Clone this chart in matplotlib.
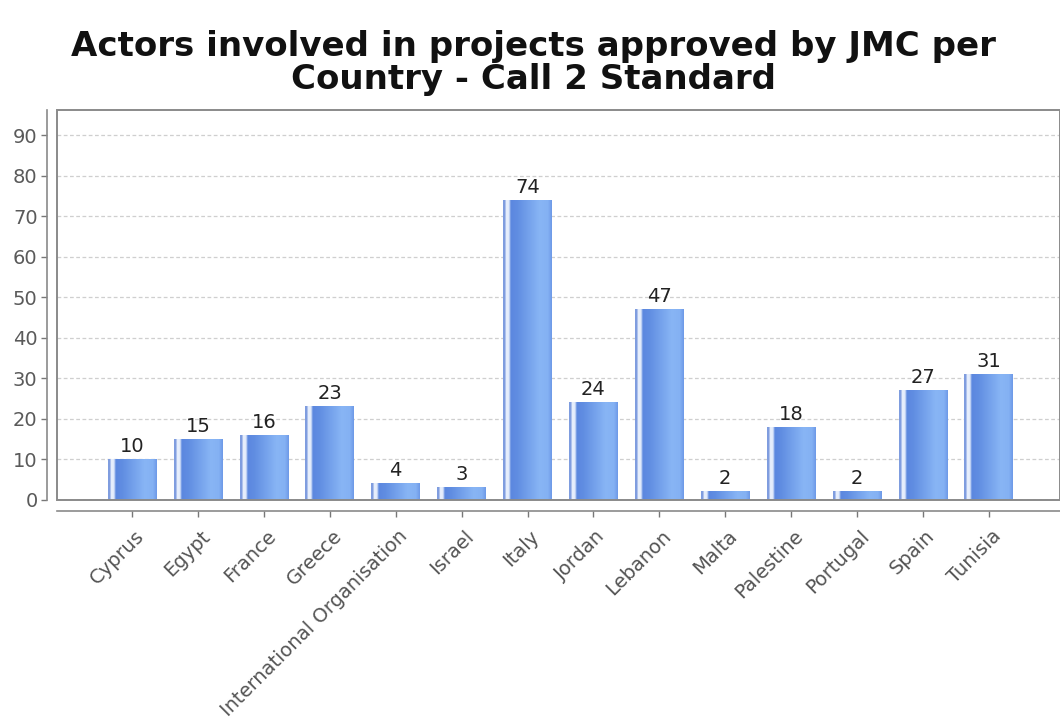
import numpy as np
import matplotlib.pyplot as plt
from matplotlib.colors import to_rgb
from matplotlib.patches import Rectangle
from matplotlib.transforms import ScaledTranslation

countries = ["Cyprus", "Egypt", "France", "Greece", "International Organisation",
             "Israel", "Italy", "Jordan", "Lebanon", "Malta", "Palestine",
             "Portugal", "Spain", "Tunisia"]
actors = [10, 15, 16, 23, 4, 3, 74, 24, 47, 2, 18, 2, 27, 31]

title = "Actors involved in projects approved by JMC per\nCountry - Call 2 Standard"

# horizontal shading across one bar: edge stripe, highlight, then dark->light body
stops = [(0.00, "#7f9ddf"), (0.04, "#7f9ddf"), (0.06, "#eaf1fd"), (0.12, "#e2ebfb"),
         (0.16, "#5b87df"), (0.30, "#618ee2"), (0.75, "#88b5f5"), (0.92, "#84b1f3"),
         (1.00, "#6d99e7")]
pos = np.array([s[0] for s in stops])
cols = np.array([to_rgb(s[1]) for s in stops])
xs = np.linspace(0, 1, 200)
grad = np.stack([np.interp(xs, pos, cols[:, i]) for i in range(3)], axis=-1)[None, :, :]

fig = plt.figure(figsize=(10.6, 7.19), dpi=100)
ax = fig.add_axes([57 / 1060, 0.3046, 1 - 57 / 1060, 0.5424])

# plot frame plus offset axis lines (set first: moving a spine resets its ticks)
for side in ["top", "right"]:
    ax.spines[side].set_visible(False)
ax.spines["left"].set_position(("outward", 7))
ax.spines["bottom"].set_position(("outward", 8))
for side in ["left", "bottom"]:
    ax.spines[side].set_color("#8a8a8a")
    ax.spines[side].set_linewidth(1.2)
ax.add_patch(Rectangle((0, 0), 1, 1, transform=ax.transAxes, fill=False,
                       edgecolor="#8a8a8a", linewidth=1.4, clip_on=False, zorder=3))

x = np.arange(len(countries))
bars = ax.bar(x, actors, width=0.74, color="none", edgecolor="none", zorder=2)
for rect, v in zip(bars, actors):
    x0 = rect.get_x()
    ax.imshow(grad, extent=[x0, x0 + rect.get_width(), 0, rect.get_height()],
              aspect="auto", interpolation="bilinear", zorder=2)
    ax.annotate(str(v), (rect.get_x() + rect.get_width() / 2, v),
                xytext=(0, 2.5), textcoords="offset points", ha="center", va="bottom",
                fontsize=14, color="#222222")

ax.set_xlim(-1.14, 14.08)
ax.set_ylim(0, 96.2)
ax.spines["left"].set_bounds(0, 96.2)
ax.set_yticks(np.arange(0, 100, 10))
ax.set_xticks(x)
ax.tick_params(axis="y", labelsize=14, labelcolor="#5a5a5a", color="#777777",
               length=4, width=1, pad=3)
ax.tick_params(axis="x", color="#777777", length=4, width=1, pad=12)
ax.set_xticklabels(countries, rotation=45, ha="right", va="center",
                   rotation_mode="anchor", fontsize=14, color="#555555")
shift = ScaledTranslation(9 / 100, 0, fig.dpi_scale_trans)
for lbl in ax.get_xticklabels():
    lbl.set_transform(lbl.get_transform() + shift)

ax.yaxis.grid(True, linestyle=(0, (3, 2)), color="#cfcfcf", linewidth=0.9, zorder=0)
ax.set_axisbelow(True)

fig.text(0.503, 0.913, title, ha="center", va="center", fontsize=24.5,
         fontweight="bold", linespacing=1.0, color="#111111")

fig.savefig("out.png", dpi=100)
